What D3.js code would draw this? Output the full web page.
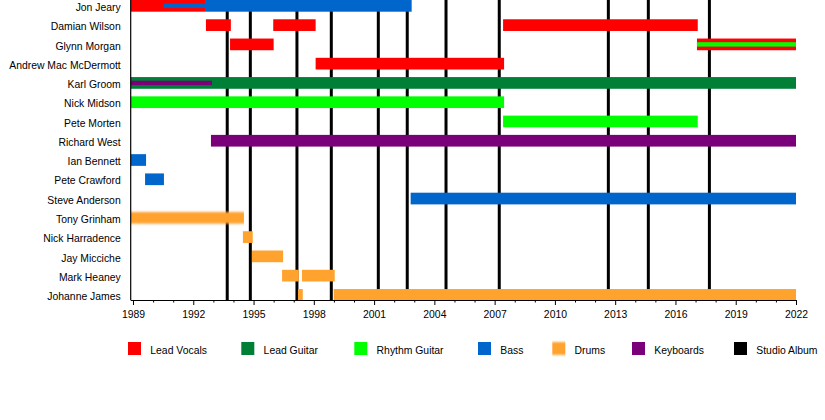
<!DOCTYPE html>
<html>
<head>
<meta charset="utf-8">
<script src="https://cdn.jsdelivr.net/npm/d3@7"></script>
<style>
  html, body { margin: 0; padding: 0; background: #fff; }
  svg text { font-family: "Liberation Sans", Arial, sans-serif; font-size: 10.4px; fill: #000; }
</style>
</head>
<body>
<svg id="chart" width="825" height="420"></svg>
<script>
// ---- data ----
const members = ["Jon Jeary", "Damian Wilson", "Glynn Morgan", "Andrew Mac McDermott", "Karl Groom",
  "Nick Midson", "Pete Morten", "Richard West", "Ian Bennett", "Pete Crawford", "Steve Anderson",
  "Tony Grinham", "Nick Harradence", "Jay Micciche", "Mark Heaney", "Johanne James"];

const roles = ["Lead Vocals", "Lead Guitar", "Rhythm Guitar", "Bass", "Drums", "Keyboards", "Studio Album"];
const roleColors = ["#ff0000", "#007f36", "#00ff00", "#0066cc", "#ffa22e", "#7a007a", "#000000"];

// [member, role, start, end, thin]
const bars = [
  ["Jon Jeary", "Lead Vocals", 1988.9, 1992.63, false],
  ["Jon Jeary", "Bass", 1992.63, 2002.87, false],
  ["Jon Jeary", "Bass", 1990.51, 1992.63, true],
  ["Damian Wilson", "Lead Vocals", 1992.63, 1993.87, false],
  ["Damian Wilson", "Lead Vocals", 1995.98, 1998.09, false],
  ["Damian Wilson", "Lead Vocals", 2007.42, 2017.11, false],
  ["Glynn Morgan", "Lead Vocals", 1993.83, 1996.0, false],
  ["Glynn Morgan", "Lead Vocals", 2017.07, 2022, false],
  ["Glynn Morgan", "Rhythm Guitar", 2017.07, 2022, true],
  ["Andrew Mac McDermott", "Lead Vocals", 1998.09, 2007.47, false],
  ["Karl Groom", "Lead Guitar", 1988.9, 2022, false],
  ["Karl Groom", "Keyboards", 1988.9, 1992.93, true],
  ["Nick Midson", "Rhythm Guitar", 1988.9, 2007.47, false],
  ["Pete Morten", "Rhythm Guitar", 2007.42, 2017.11, false],
  ["Richard West", "Keyboards", 1992.88, 2022, false],
  ["Ian Bennett", "Bass", 1988.9, 1989.65, false],
  ["Pete Crawford", "Bass", 1989.6, 1990.54, false],
  ["Steve Anderson", "Bass", 2002.82, 2022, false],
  ["Tony Grinham", "Drums", 1988.9, 1994.52, false],
  ["Nick Harradence", "Drums", 1994.47, 1994.96, false],
  ["Jay Micciche", "Drums", 1994.92, 1996.47, false],
  ["Mark Heaney", "Drums", 1996.42, 1997.25, false],
  ["Mark Heaney", "Drums", 1997.41, 1999.04, false],
  ["Johanne James", "Drums", 1997.21, 1997.45, false],
  ["Johanne James", "Drums", 1998.99, 2022, false]
];

const albums = [1993.69, 1994.84, 1997.16, 1998.87, 2001.21, 2002.65, 2004.58, 2007.23, 2012.66, 2014.65, 2017.69];

const majorTicks = [1989, 1992, 1995, 1998, 2001, 2004, 2007, 2010, 2013, 2016, 2019, 2022];
const minorTicks = d3.range(1989, 2023);

// ---- layout ----
const svg = d3.select("#chart");
const x = d3.scaleLinear().domain([1988.9, 2022]).range([131, 796]);
const rowStep = 19.27, rowTop = 5.85, barH = 11.7, thinH = 4.4;
const y = d3.scalePoint().domain(members).range([rowTop, rowTop + rowStep * (members.length - 1)]);
const color = d3.scaleOrdinal().domain(roles).range(roleColors);
const axisY = 300;

// blur filter for Tony Grinham's soft edge
const defs = svg.append("defs");
defs.append("filter").attr("id", "soft").attr("x", "-5%").attr("y", "-50%").attr("width", "110%").attr("height", "200%")
  .append("feGaussianBlur").attr("stdDeviation", "0.3 1.3");

// album lines (behind bars)
svg.append("g").selectAll("line").data(albums).join("line")
  .attr("x1", d => x(d)).attr("x2", d => x(d))
  .attr("y1", 0).attr("y2", axisY)
  .attr("stroke", color("Studio Album")).attr("stroke-width", 3);

// full bars
const full = bars.filter(b => !b[4]);
const thin = bars.filter(b => b[4]);

svg.append("g").selectAll("rect").data(full).join("rect")
  .attr("x", d => x(d[2]))
  .attr("width", d => x(d[3]) - x(d[2]))
  .attr("y", d => y(d[0]) - barH / 2)
  .attr("height", barH)
  .attr("fill", d => color(d[1]))
  .attr("filter", d => d[0] === "Tony Grinham" ? "url(#soft)" : null);

svg.append("g").selectAll("rect").data(thin).join("rect")
  .attr("x", d => x(d[2]))
  .attr("width", d => x(d[3]) - x(d[2]))
  .attr("y", d => y(d[0]) - thinH / 2)
  .attr("height", thinH)
  .attr("fill", d => color(d[1]));

// row labels
svg.append("g").selectAll("text").data(members).join("text")
  .attr("x", 120.7).attr("y", d => y(d) + 5.2)
  .attr("text-anchor", "end")
  .text(d => d);

// axes lines
svg.append("line").attr("x1", 130.7).attr("x2", 130.7).attr("y1", 0).attr("y2", axisY)
  .attr("stroke", "#000").attr("stroke-width", 1.2);

const xAxis = d3.axisBottom(x).tickValues(majorTicks).tickFormat(d3.format("d")).tickSize(5).tickPadding(5.5);
const gx = svg.append("g").attr("transform", `translate(0,${axisY})`).call(xAxis);
gx.select(".domain").attr("d", `M130.7,0.5H${x(2022) + 0.5}`).attr("stroke", "#000").attr("stroke-width", 1.2);
gx.selectAll(".tick text").attr("font-family", "Liberation Sans, Arial, sans-serif").attr("font-size", 10.4).attr("fill", "#000");
gx.selectAll(".tick line").attr("stroke", "#000");

const xMinor = d3.axisBottom(x).tickValues(minorTicks.filter(t => !majorTicks.includes(t))).tickFormat("").tickSize(2.5);
const gm = svg.append("g").attr("transform", `translate(0,${axisY})`).call(xMinor);
gm.select(".domain").remove();
gm.selectAll(".tick line").attr("stroke", "#000");

// legend
const legendX = [128, 241.3, 354.3, 478, 552.3, 632, 734];
const lg = svg.append("g").selectAll("g").data(roles).join("g")
  .attr("transform", (d, i) => `translate(${legendX[i]},342)`);
lg.append("rect").attr("width", 13).attr("height", 13).attr("fill", d => color(d))
  .attr("filter", d => d === "Drums" ? "url(#soft)" : null);
lg.append("text").attr("x", 22.3).attr("y", 11.8).text(d => d);
</script>
</body>
</html>
